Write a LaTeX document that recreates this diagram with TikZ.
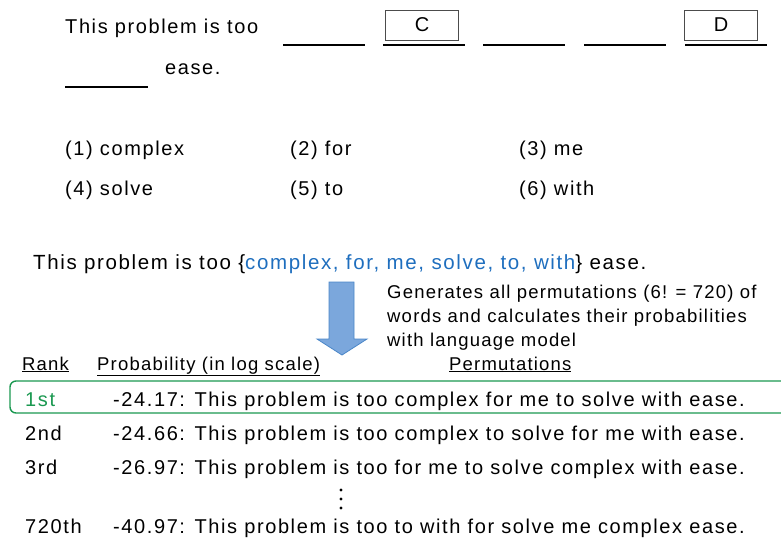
\documentclass[tikz,border=0pt]{standalone}
\usepackage{fontspec}
\setmainfont{Liberation Sans}
\usepackage{tikz}
\usetikzlibrary{positioning}
\definecolor{wordblue}{RGB}{30,110,190}
\definecolor{bestgreen}{RGB}{26,152,80}
\definecolor{arrowfill}{RGB}{123,167,220}
\definecolor{arrowline}{RGB}{74,134,200}
\tikzset{
x=1pt, y=-1pt, % one unit is one pixel of the layout, y runs down
txt/.style={anchor=base west, inner sep=0pt, font=\fontsize{20}{24}\selectfont\addfontfeature{LetterSpace=8}}, % main text
wide/.style={txt, font=\fontsize{20.5}{24}\selectfont\addfontfeature{LetterSpace=8}}, % the word bag line
small/.style={anchor=base west, inner sep=0pt, font=\fontsize{18.5}{22}\selectfont\addfontfeature{LetterSpace=6.5}}, % notes and header
blankbox/.style={draw=black!70, minimum width=73pt, minimum height=30pt, inner sep=0pt, font=\fontsize{20}{24}\selectfont},
blank/.style={line width=1.2pt},
}

\begin{document}
\begin{tikzpicture}
        \useasboundingbox (0,0) rectangle (781,542);

        % the question
        \node[txt] (stem) at (65,33) {This problem is too};
        \foreach \x in {283,383,483,584,685}
          \draw[blank] (\x,45) -- ++(82,0);
        \node[blankbox] (boxc) at (422,25) {C};
        \node[blankbox] (boxd) at (721,25) {D};
        \draw[blank] (65,87) -- ++(83,0);
        \node[txt] (tail) at (165,74) {ease.};

        % the choices
        \node[txt] (c1) at (65,155) {(1) complex};
        \node[txt] (c2) at (290,155) {(2) for};
        \node[txt] (c3) at (519,155) {(3) me};
        \node[txt] (c4) at (65,195) {(4) solve};
        \node[txt] (c5) at (290,195) {(5) to};
        \node[txt] (c6) at (519,195) {(6) with};

        \node[wide] (bag) at (33,269) {This problem is too \{\textcolor{wordblue}{complex, for, me, solve, to, with}\} ease.};

        % the arrow
        \draw[arrowline, fill=arrowfill, line width=0.8pt]
          (329,282) -- (354,282) -- (354,339) -- (367,339) -- (342,355)
          -- (317,339) -- (329,339) -- cycle;
        \node[small] (note1) at (387,298) {Generates all permutations (6! = 720) of};
        \node[small] (note2) at (387,322) {words and calculates their probabilities};
        \node[small] (note3) at (387,346) {with language model};

        % the ranking
        \node[small] (hrank) at (22,370) {\underline{Rank}};
        \node[small] (hprob) at (97,370) {\underline{Probability (in log scale)}};
        \node[small] (hperm) at (449,370) {\underline{Permutations}};

        \draw[bestgreen, line width=1.4pt, rounded corners=6pt] (10,381) rectangle (790,413);
        \node[txt, text=bestgreen] (r1) at (25,406) {1st};
        \node[txt] (p1) at (113,406) {-24.17: This problem is too complex for me to solve with ease.};
        \node[txt] (r2) at (25,440) {2nd};
        \node[txt] (p2) at (113,440) {-24.66: This problem is too complex to solve for me with ease.};
        \node[txt] (r3) at (25,474) {3rd};
        \node[txt] (p3) at (113,474) {-26.97: This problem is too for me to solve complex with ease.};
        \foreach \y in {490,499,508}
          \fill (341,\y) circle (1.7);
        \node[txt] (r720) at (25,533) {720th};
        \node[txt] (p720) at (113,533) {-40.97: This problem is too to with for solve me complex ease.};
      \end{tikzpicture}
\end{document}
